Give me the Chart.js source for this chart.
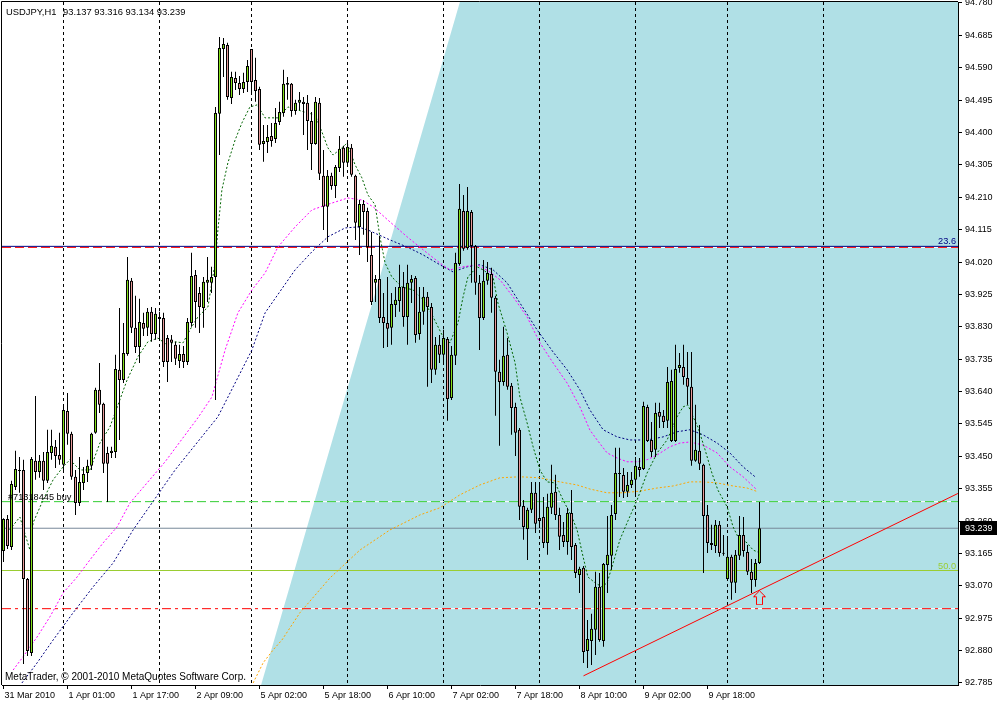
<!DOCTYPE html>
<html><head><meta charset="utf-8">
<script src="https://cdn.jsdelivr.net/npm/chart.js@4.4.1/dist/chart.umd.min.js"></script>
<style>html,body{margin:0;padding:0;background:#fff;overflow:hidden}#wrap{position:relative;width:997px;height:702px}canvas{display:block}</style>
</head><body><div id="wrap"><canvas id="c" width="997" height="702"></canvas></div>
<script>
// ---------- texts ----------
const symbolTitle = 'USDJPY,H1';
const lastOHLC = '93.137 93.316 93.134 93.239';
const copyrightText = 'MetaTrader, \u00A9 2001-2010 MetaQuotes Software Corp.';
const orderLabel = '#71318445 buy';

// ---------- candles (H1) ----------
const open = [
93.172,93.266,93.184,93.360,93.410,93.410,93.090,92.873,93.437,93.404,
93.437,93.378,93.460,93.478,93.454,93.425,93.583,93.516,93.390,93.313,
93.372,93.401,93.422,93.519,93.645,93.604,93.460,93.460,93.463,93.704,
93.674,93.750,93.965,93.827,93.771,93.841,93.827,93.874,93.809,93.859,
93.856,93.797,93.793,93.777,93.730,93.750,93.727,93.841,93.982,93.929,
93.885,93.959,93.959,93.976,94.455,94.645,94.657,94.501,94.560,94.545,
94.528,94.548,94.645,94.554,94.528,94.366,94.372,94.390,94.381,94.431,
94.457,94.545,94.543,94.463,94.487,94.490,94.487,94.434,94.366,94.487,
94.273,94.182,94.273,94.243,94.296,94.355,94.311,94.355,94.273,94.123,
94.190,94.170,94.041,93.959,93.970,93.859,93.841,93.827,93.894,93.906,
93.947,93.859,93.959,93.973,93.809,93.874,93.918,93.888,93.704,93.777,
93.748,93.794,93.621,93.745,94.014,94.170,94.061,94.167,94.067,93.959,
93.856,93.965,93.985,93.915,93.698,93.668,93.748,93.657,93.595,93.528,
93.304,93.237,93.293,93.343,93.269,93.272,93.196,93.299,93.346,93.278,
93.219,93.199,93.284,93.190,93.102,93.123,92.879,92.908,92.941,93.067,
92.908,93.131,93.158,93.281,93.401,93.395,93.346,93.366,93.381,93.419,
93.413,93.595,93.498,93.469,93.580,93.569,93.554,93.495,93.495,93.709,
93.712,93.680,93.654,93.437,93.466,93.425,93.278,93.196,93.187,93.249,
93.166,93.090,93.155,93.079,93.158,93.219,93.169,93.111,93.087,93.137];
const high = [
93.268,93.278,93.378,93.466,93.448,93.440,93.093,93.448,93.627,93.454,
93.463,93.528,93.528,93.498,93.519,93.601,93.636,93.522,93.410,93.448,
93.419,93.440,93.519,93.651,93.724,93.607,93.478,93.478,93.748,93.885,
93.841,94.035,93.973,93.921,93.912,93.871,93.885,93.888,93.885,93.874,
93.871,93.806,93.806,93.786,93.777,93.774,93.856,94.047,93.997,93.947,
93.976,94.035,94.006,94.475,94.680,94.677,94.663,94.578,94.578,94.566,
94.575,94.613,94.645,94.619,94.534,94.422,94.422,94.428,94.472,94.490,
94.584,94.563,94.545,94.496,94.519,94.504,94.510,94.460,94.504,94.501,
94.349,94.290,94.282,94.305,94.390,94.361,94.372,94.366,94.276,94.202,
94.202,94.179,94.108,93.982,94.097,93.929,93.976,93.929,93.947,94.012,
93.991,94.012,93.982,93.979,93.947,93.947,93.932,93.900,93.800,93.806,
93.821,93.800,93.774,94.047,94.249,94.217,94.240,94.173,94.070,93.982,
94.026,94.020,94.003,93.921,93.733,93.830,93.797,93.665,93.607,93.533,
93.322,93.299,93.375,93.375,93.375,93.331,93.340,93.425,93.396,93.299,
93.257,93.299,93.351,93.196,93.126,93.128,92.970,92.988,93.111,93.108,
93.137,93.275,93.307,93.475,93.475,93.416,93.404,93.404,93.448,93.445,
93.610,93.601,93.551,93.607,93.607,93.586,93.712,93.704,93.777,93.753,
93.777,93.756,93.756,93.601,93.542,93.428,93.307,93.249,93.263,93.260,
93.219,93.216,93.161,93.175,93.275,93.272,93.190,93.149,93.149,93.316];
const low = [
93.140,93.178,93.175,93.351,93.343,92.841,92.864,92.864,93.381,93.387,
93.351,93.372,93.440,93.416,93.425,93.401,93.484,93.381,93.278,93.304,
93.351,93.375,93.410,93.516,93.577,93.401,93.316,93.445,93.445,93.498,
93.665,93.745,93.812,93.753,93.724,93.803,93.803,93.786,93.792,93.792,
93.712,93.668,93.727,93.718,93.709,93.709,93.718,93.830,93.827,93.812,
93.827,93.903,93.929,93.615,94.334,94.563,94.496,94.484,94.525,94.510,
94.516,94.519,94.519,94.490,94.349,94.314,94.340,94.358,94.369,94.422,
94.446,94.496,94.446,94.452,94.466,94.393,94.349,94.290,94.364,94.261,
94.114,94.079,94.232,94.208,94.284,94.270,94.305,94.270,94.085,94.041,
94.100,94.020,93.894,93.903,93.841,93.768,93.771,93.777,93.859,93.874,
93.830,93.777,93.900,93.783,93.792,93.836,93.654,93.665,93.689,93.724,
93.724,93.554,93.615,93.718,94.009,94.053,94.056,93.959,93.924,93.762,
93.850,93.953,93.871,93.569,93.481,93.657,93.645,93.513,93.451,93.263,
93.205,93.146,93.284,93.225,93.240,93.181,93.161,93.281,93.263,93.175,
93.184,93.161,93.146,93.093,93.049,92.844,92.829,92.838,92.867,92.906,
92.891,93.049,93.117,93.263,93.331,93.328,93.331,93.357,93.331,93.390,
93.410,93.492,93.448,93.448,93.533,93.533,93.533,93.492,93.492,93.695,
93.660,93.601,93.422,93.434,93.410,93.108,93.166,93.175,93.166,93.155,
93.158,93.087,93.029,93.049,93.146,93.155,93.102,93.049,93.067,93.134];
const close = [
93.266,93.187,93.369,93.413,93.407,93.090,92.879,93.442,93.404,93.437,
93.378,93.463,93.481,93.451,93.440,93.586,93.516,93.390,93.313,93.375,
93.398,93.422,93.516,93.645,93.601,93.428,93.428,93.466,93.706,93.674,
93.753,93.968,93.827,93.771,93.844,93.824,93.874,93.809,93.868,93.853,
93.727,93.727,93.783,93.736,93.750,93.727,93.844,93.979,93.903,93.888,
93.962,93.968,93.976,94.457,94.648,94.660,94.504,94.563,94.545,94.528,
94.548,94.595,94.548,94.522,94.364,94.375,94.387,94.375,94.428,94.460,
94.543,94.540,94.463,94.487,94.496,94.484,94.434,94.366,94.490,94.279,
94.182,94.273,94.243,94.299,94.352,94.311,94.358,94.276,94.135,94.190,
94.167,94.064,93.903,93.970,93.856,93.841,93.824,93.897,93.909,93.947,
93.859,93.959,93.970,93.806,93.874,93.918,93.888,93.704,93.777,93.748,
93.797,93.618,93.748,94.017,94.176,94.059,94.170,94.067,93.959,93.856,
93.965,93.988,93.915,93.698,93.668,93.745,93.654,93.592,93.519,93.302,
93.243,93.293,93.343,93.252,93.260,93.196,93.302,93.343,93.278,93.214,
93.199,93.284,93.184,93.108,93.120,92.876,92.914,92.944,93.067,92.911,
93.134,93.161,93.278,93.401,93.398,93.346,93.366,93.381,93.422,93.410,
93.598,93.495,93.463,93.577,93.566,93.551,93.668,93.671,93.706,93.718,
93.683,93.654,93.437,93.469,93.428,93.275,93.196,93.190,93.249,93.166,
93.164,93.155,93.079,93.161,93.219,93.172,93.111,93.087,93.137,93.239];

// ---------- moving averages: [bar, price] readings ----------
const maFast = [[0.9,93.225],[4.1,93.272],[6.6,93.175],[7.4,93.255],[9.9,93.322],[12.4,93.381],[14.9,93.419],[16.6,93.440],[19.1,93.410],[21.6,93.410],[24.1,93.489],[26.6,93.536],[30.9,93.674],[33.6,93.742],[36.1,93.786],[38.6,93.797],[40.9,93.777],[42.9,93.786],[44.9,93.783],[46.6,93.821],[48.6,93.859],[51.1,93.888],[52.9,94.017],[53.6,94.114],[54.6,94.232],[56.1,94.311],[57.9,94.378],[59.6,94.428],[61.6,94.475],[63.4,94.481],[65.4,94.443],[68.6,94.443],[71.1,94.475],[73.6,94.466],[76.1,94.457],[77.9,94.452],[79.6,94.402],[81.1,94.355],[82.4,94.334],[84.6,94.355],[85.9,94.369],[87.9,94.305],[89.6,94.267],[91.1,94.217],[92.9,94.188],[94.1,94.094],[95.4,94.017],[97.1,93.976],[99.6,93.947],[102.4,93.938],[104.9,93.909],[107.4,93.859],[109.9,93.800],[111.6,93.783],[113.6,93.841],[114.9,93.918],[116.1,93.976],[118.4,94.006],[119.9,93.997],[122.4,93.976],[123.6,93.900],[125.9,93.812],[127.9,93.724],[129.1,93.624],[130.9,93.548],[132.4,93.478],[134.1,93.410],[135.9,93.375],[137.9,93.372],[139.9,93.322],[142.1,93.272],[143.4,93.234],[144.9,93.155],[146.1,93.096],[147.9,93.079],[149.6,93.067],[150.9,93.079],[152.4,93.137],[154.1,93.205],[155.9,93.255],[158.4,93.322],[160.9,93.401],[163.4,93.460],[165.9,93.498],[168.4,93.566],[169.9,93.595],[171.1,93.601],[172.4,93.566],[173.6,93.536],[175.4,93.469],[177.1,93.401],[178.6,93.351],[180.9,93.302],[182.4,93.243],[183.6,93.214],[185.9,93.196],[187.4,93.175],[188.6,93.169]];
const maMid = [[2.4,92.823],[4.9,92.862],[8.4,92.920],[11.6,92.979],[14.9,93.049],[18.4,93.096],[21.6,93.146],[24.9,93.196],[28.4,93.243],[31.6,93.313],[40.4,93.434],[48.6,93.563],[52.1,93.624],[55.4,93.762],[58.6,93.871],[62.1,93.938],[65.4,93.988],[68.6,94.064],[72.9,94.123],[77.1,94.173],[82.1,94.193],[86.1,94.208],[89.6,94.202],[92.4,94.182],[96.6,94.138],[100.9,94.094],[104.9,94.056],[109.1,94.017],[111.6,93.997],[114.9,94.006],[118.4,94.012],[121.6,93.991],[124.1,93.968],[127.4,93.918],[130.9,93.859],[134.1,93.783],[137.4,93.724],[140.9,93.665],[144.1,93.595],[146.6,93.527],[148.4,93.498],[150.9,93.460],[153.4,93.445],[155.9,93.434],[158.4,93.434],[160.9,93.440],[163.4,93.454],[166.6,93.478],[169.1,93.489],[171.6,93.492],[174.9,93.483],[178.4,93.460],[181.6,93.419],[184.9,93.390],[188.4,93.351]];
const maSlow = [[4.6,92.785],[8.4,92.844],[12.4,92.911],[17.4,92.991],[22.4,93.067],[27.4,93.137],[32.4,93.234],[42.9,93.410],[53.6,93.566],[57.9,93.665],[62.1,93.762],[65.4,93.871],[72.9,93.997],[77.1,94.050],[81.1,94.094],[85.4,94.120],[88.6,94.123],[91.1,94.114],[96.6,94.085],[100.9,94.064],[104.9,94.041],[109.1,94.012],[112.4,93.991],[115.9,94.006],[119.1,94.012],[122.4,93.997],[125.9,93.959],[129.1,93.900],[133.4,93.821],[137.4,93.756],[140.9,93.704],[144.1,93.645],[146.6,93.586],[149.9,93.528],[153.4,93.507],[156.6,93.498],[160.9,93.498],[164.9,93.507],[168.4,93.522],[171.6,93.528],[174.9,93.513],[178.4,93.489],[181.6,93.460],[184.9,93.419],[187.9,93.390]];
const maLong = [[62.4,92.785],[64.9,92.844],[67.4,92.882],[69.6,92.911],[74.1,92.991],[81.6,93.093],[89.1,93.175],[96.6,93.234],[104.1,93.278],[109.1,93.299],[114.1,93.337],[119.1,93.366],[124.1,93.387],[129.1,93.390],[134.1,93.387],[139.1,93.375],[143.4,93.366],[146.6,93.354],[150.9,93.343],[154.9,93.343],[159.1,93.348],[163.4,93.357],[167.4,93.363],[171.6,93.375],[174.9,93.375],[178.4,93.372],[182.4,93.363],[185.9,93.357],[188.6,93.346]];

// ---------- levels & objects ----------
const fibLevelNames = ['23.6','50.0'];
const fibLevelPrices = [94.066, 93.115];
const takeProfitPrice = 94.063;
const orderOpenPrice = 93.317;
const stopLossPrice = 93.003;
const bidPrice = 93.239;
const trendBars = [145.0, 238.6];
const trendPrices = [92.806, 93.341];
const arrowBars = [189];
const arrowPrices = [93.035];
const shadeBars = [64.4, 114.1];

// ---------- axes ----------
const xTickBars = [0,16,32,48,64,80,96,112,128,144,160,176];
const xTickLabels = ['31 Mar 2010','1 Apr 01:00','1 Apr 17:00','2 Apr 09:00','5 Apr 02:00','5 Apr 18:00','6 Apr 10:00','7 Apr 02:00','7 Apr 18:00','8 Apr 10:00','9 Apr 02:00','9 Apr 18:00'];
const separatorBars = [15,39,62,86,110,134,158,181,205];
const yTickValues = [94.780,94.685,94.590,94.495,94.400,94.305,94.210,94.115,94.020,93.925,93.830,93.735,93.640,93.545,93.450,93.355,93.260,93.165,93.070,92.975,92.880,92.785];
const yTickLabels = ['94.780','94.685','94.590','94.495','94.400','94.305','94.210','94.115','94.020','93.925','93.830','93.735','93.640','93.545','93.450','93.355','93.260','93.165','93.070','92.975','92.880','92.785'];

const X_MIN = -0.375, X_MAX = 238.625;
const Y_MIN = 92.7791, Y_MAX = 94.7829;
const FONT = '"Liberation Sans", Arial, sans-serif';

// ---------- build datasets ----------
const wickData = [], bullData = [], bearData = [];
for (let i = 0; i < open.length; i++) {
  wickData.push({x: i, y: [low[i], high[i]]});
  if (close[i] >= open[i]) bullData.push({x: i, y: [open[i], close[i]]});
  else bearData.push({x: i, y: [close[i], open[i]]});
}
const toXY = arr => arr.map(p => ({x: p[0], y: p[1]}));
const hline = v => [{x: X_MIN, y: v}, {x: X_MAX, y: v}];
const sepData = [];
separatorBars.forEach(b => { sepData.push({x: b, y: Y_MAX}, {x: b, y: Y_MIN}, {x: b, y: null}); });

function makeArrow() {
  const c = document.createElement('canvas'); c.width = 13; c.height = 15;
  const g = c.getContext('2d');
  g.strokeStyle = '#FF0000'; g.lineWidth = 1;
  g.beginPath();
  g.moveTo(6.5, 0.5); g.lineTo(12.5, 6.5); g.lineTo(9.5, 6.5); g.lineTo(9.5, 14.5);
  g.lineTo(3.5, 14.5); g.lineTo(3.5, 6.5); g.lineTo(0.5, 6.5); g.closePath(); g.stroke();
  return c;
}

const lineBase = {type: 'line', pointRadius: 0, pointHoverRadius: 0, borderWidth: 1, fill: false, tension: 0, spanGaps: false};
const barBase = {type: 'bar', grouped: false, borderSkipped: false, inflateAmount: 0, borderRadius: 0};

const datasets = [
  Object.assign({}, lineBase, {label: 'zone', data: [{x: shadeBars[0], y: Y_MIN}, {x: shadeBars[1], y: Y_MAX}, {x: X_MAX, y: Y_MAX}], borderWidth: 0, borderColor: 'rgba(0,0,0,0)', backgroundColor: '#B0E0E6', fill: 'start', order: 100}),
  Object.assign({}, lineBase, {label: 'sep', data: sepData, borderColor: '#000000', borderDash: [3, 3], order: 90}),
  Object.assign({}, lineBase, {label: 'tpU', data: hline(takeProfitPrice), borderColor: '#FFFFFF', order: 81}),
  Object.assign({}, lineBase, {label: 'tp', data: hline(takeProfitPrice), borderColor: '#FF0000', borderDash: [9, 4], order: 80}),
  Object.assign({}, lineBase, {label: 'fib236', data: hline(fibLevelPrices[0]), borderColor: '#000080', order: 79}),
  Object.assign({}, lineBase, {label: 'ordU', data: hline(orderOpenPrice), borderColor: '#FFFFFF', order: 81}),
  Object.assign({}, lineBase, {label: 'ord', data: hline(orderOpenPrice), borderColor: '#32CD32', borderDash: [9, 4], order: 80}),
  Object.assign({}, lineBase, {label: 'bid', data: hline(bidPrice), borderColor: '#778899', order: 80}),
  Object.assign({}, lineBase, {label: 'fib50', data: hline(fibLevelPrices[1]), borderColor: '#9ACD32', order: 80}),
  Object.assign({}, lineBase, {label: 'slU', data: hline(stopLossPrice), borderColor: '#FFFFFF', order: 81}),
  Object.assign({}, lineBase, {label: 'sl', data: hline(stopLossPrice), borderColor: '#FF0000', borderDash: [9, 4, 3, 4], order: 80}),
  Object.assign({}, lineBase, {label: 'maLong', data: toXY(maLong), borderColor: '#FFA500', borderDash: [2, 2], order: 60}),
  Object.assign({}, lineBase, {label: 'maSlow', data: toXY(maSlow), borderColor: '#000080', borderDash: [2, 2], order: 59}),
  Object.assign({}, lineBase, {label: 'maMid', data: toXY(maMid), borderColor: '#FF00FF', borderDash: [2, 2], order: 58}),
  Object.assign({}, lineBase, {label: 'maFast', data: toXY(maFast), borderColor: '#006400', borderDash: [2, 2], order: 57}),
  Object.assign({}, barBase, {label: 'wick', data: wickData, backgroundColor: '#000000', borderWidth: 0, barThickness: 1, order: 40}),
  Object.assign({}, barBase, {label: 'bull', data: bullData, backgroundColor: '#84E01A', borderColor: '#000000', borderWidth: 1, barThickness: 3, minBarLength: 1, order: 30}),
  Object.assign({}, barBase, {label: 'bear', data: bearData, backgroundColor: '#E89A9A', borderColor: '#000000', borderWidth: 1, barThickness: 3, minBarLength: 1, order: 30}),
  Object.assign({}, lineBase, {label: 'trend', data: [{x: trendBars[0], y: trendPrices[0]}, {x: trendBars[1], y: trendPrices[1]}], borderColor: '#FF0000', order: 20}),
  {type: 'scatter', label: 'arrow', data: arrowBars.map((b, k) => ({x: b, y: arrowPrices[k]})), pointStyle: makeArrow(), pointRadius: 7, pointHoverRadius: 7, order: 10}
];

const overlay = {
  id: 'mtOverlay',
  afterDraw(chart) {
    const ctx = chart.ctx, a = chart.chartArea, ys = chart.scales.y;
    ctx.save();
    ctx.strokeStyle = '#000'; ctx.lineWidth = 1;
    ctx.beginPath(); ctx.moveTo(a.left - 0.5, a.bottom); ctx.lineTo(a.left - 0.5, a.top - 0.5); ctx.lineTo(a.right, a.top - 0.5); ctx.stroke();
    ctx.textBaseline = 'alphabetic'; ctx.textAlign = 'left';
    ctx.fillStyle = '#000';
    ctx.font = '9.4px ' + FONT;
    ctx.fillText(symbolTitle, 6, 15);
    ctx.fillText(lastOHLC, 63, 15);
    ctx.font = '10px ' + FONT;
    ctx.fillText(copyrightText, 5, 680);
    ctx.font = '9.2px ' + FONT;
    ctx.fillText(orderLabel, 8, ys.getPixelForValue(orderOpenPrice) - 2);
    ctx.textAlign = 'right';
    ctx.fillStyle = '#000080';
    ctx.fillText(fibLevelNames[0], a.right - 2, ys.getPixelForValue(fibLevelPrices[0]) - 2);
    ctx.fillStyle = '#9ACD32';
    ctx.fillText(fibLevelNames[1], a.right - 2, ys.getPixelForValue(fibLevelPrices[1]) - 2);
    const py = Math.round(ys.getPixelForValue(bidPrice));
    ctx.fillStyle = '#000';
    ctx.fillRect(a.right + 2, py - 7, chart.width - a.right - 2, 14);
    ctx.fillStyle = '#fff'; ctx.textAlign = 'left'; ctx.textBaseline = 'middle';
    ctx.font = '9px ' + FONT;
    ctx.fillText(bidPrice.toFixed(3), a.right + 7, py + 0.5);
    ctx.restore();
  }
};

function noPad(s) { s.paddingLeft = 0; s.paddingRight = 0; s.paddingTop = 0; s.paddingBottom = 0; }

new Chart(document.getElementById('c'), {
  type: 'line',
  data: {datasets},
  options: {
    responsive: false, animation: false, devicePixelRatio: 1, events: [],
    layout: {autoPadding: false, padding: {left: 2, top: 2, right: 0, bottom: 0}},
    plugins: {legend: {display: false}, tooltip: {enabled: false}, title: {display: false}},
    scales: {
      x: {
        type: 'linear', min: X_MIN, max: X_MAX, offset: false, position: 'bottom',
        afterFit(s) { s.height = 17; noPad(s); },
        afterBuildTicks(s) { s.ticks = xTickBars.map(v => ({value: v})); },
        ticks: {autoSkip: false, maxRotation: 0, minRotation: 0, align: 'start', labelOffset: 1, padding: 1, color: '#000', font: {family: FONT, size: 9}, callback: (v, i) => xTickLabels[i]},
        grid: {drawOnChartArea: false, drawTicks: true, tickLength: 4, color: '#000', offset: false},
        border: {display: true, color: '#000'}
      },
      y: {
        type: 'linear', position: 'right', min: Y_MIN, max: Y_MAX,
        afterFit(s) { s.width = 39; noPad(s); },
        afterBuildTicks(s) { s.ticks = yTickValues.map(v => ({value: v})); },
        ticks: {autoSkip: false, padding: 3, color: '#000', font: {family: FONT, size: 9}, callback: (v, i) => yTickLabels[i]},
        grid: {drawOnChartArea: false, drawTicks: true, tickLength: 4, color: '#000'},
        border: {display: true, color: '#000'}
      }
    }
  },
  plugins: [overlay]
});
</script>
</body></html>
